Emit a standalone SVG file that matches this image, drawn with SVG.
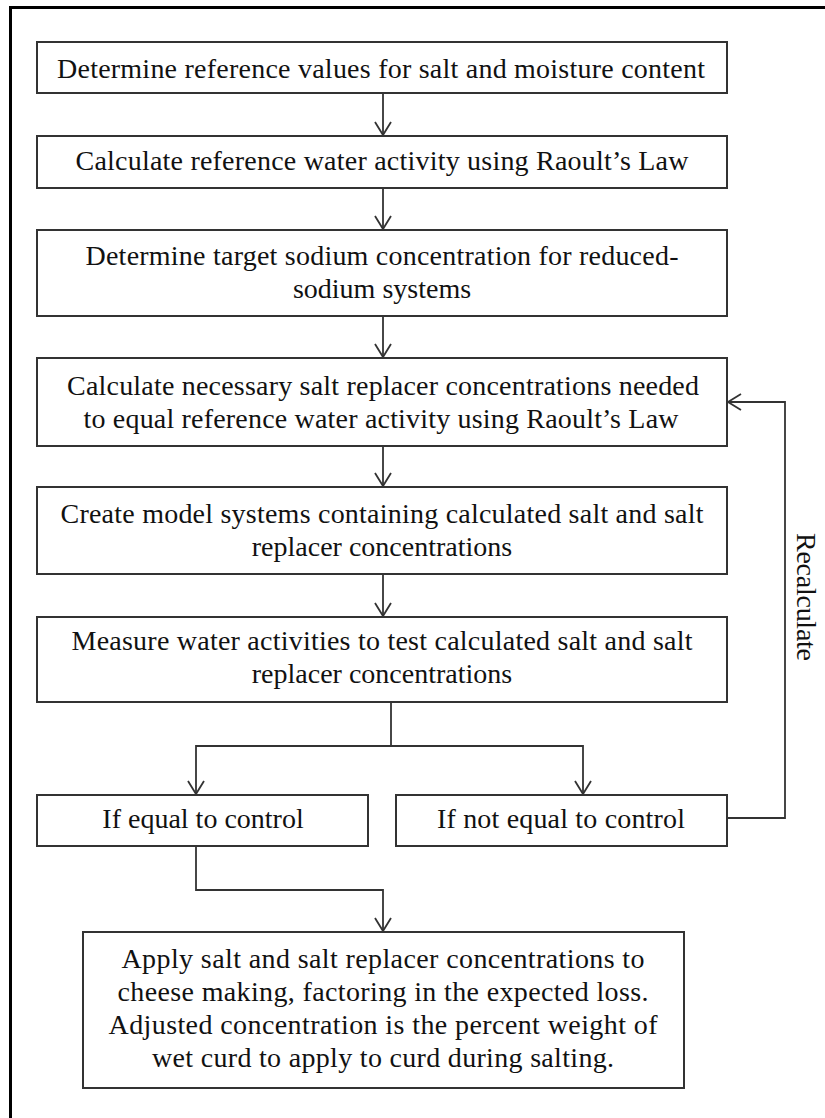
<svg xmlns="http://www.w3.org/2000/svg" width="825" height="1118" viewBox="0 0 825 1118">
<style>
.box{fill:#fff;stroke:#333;stroke-width:2}
.t{font-family:"Liberation Serif","Times New Roman",serif;font-size:28px;fill:#111;text-anchor:middle}
.c{fill:none;stroke:#333;stroke-width:1.8}
</style>
<defs>
<marker id="ah" viewBox="-15 -10 17 20" markerWidth="17" markerHeight="20" refX="0" refY="0" orient="auto" markerUnits="userSpaceOnUse">
<path d="M-13,-8 L0,0 L-13,8" fill="none" stroke="#333" stroke-width="1.8"/>
</marker>
</defs>
<rect width="825" height="1118" fill="#fff"/>
<rect x="10.5" y="7.5" width="830" height="1130" fill="none" stroke="#000" stroke-width="3"/>
<g id="connectors">
<path class="c" d="M383,93 V135" marker-end="url(#ah)"/>
<path class="c" d="M383,188 V229" marker-end="url(#ah)"/>
<path class="c" d="M383,316 V357" marker-end="url(#ah)"/>
<path class="c" d="M383,446 V486" marker-end="url(#ah)"/>
<path class="c" d="M383,574 V616" marker-end="url(#ah)"/>
<path class="c" d="M391,702 V746"/>
<path class="c" d="M391,746 H196 V794" marker-end="url(#ah)"/>
<path class="c" d="M391,746 H583 V794" marker-end="url(#ah)"/>
<path class="c" d="M196,846 V890 H383 V931" marker-end="url(#ah)"/>
<path class="c" d="M727,818 H785 V402 H728" marker-end="url(#ah)"/>
<text class="t" transform="translate(797,597) rotate(90)" x="0" y="0" textLength="128" lengthAdjust="spacing">Recalculate</text>
</g>
<g id="n1"><rect class="box" x="37" y="42" width="690" height="51"/>
<text class="t" x="381" y="78" textLength="648" lengthAdjust="spacing">Determine reference values for salt and moisture content</text></g>
<g id="n2"><rect class="box" x="37" y="136" width="690" height="52"/>
<text class="t" x="382" y="170" textLength="613" lengthAdjust="spacing">Calculate reference water activity using Raoult’s Law</text></g>
<g id="n3"><rect class="box" x="37" y="230" width="690" height="86"/>
<text class="t" x="382" y="265" textLength="593" lengthAdjust="spacing">Determine target sodium concentration for reduced-</text>
<text class="t" x="382" y="298">sodium systems</text></g>
<g id="n4"><rect class="box" x="37" y="358" width="690" height="88"/>
<text class="t" x="383" y="395" textLength="632" lengthAdjust="spacing">Calculate necessary salt replacer concentrations needed</text>
<text class="t" x="381" y="428" textLength="595" lengthAdjust="spacing">to equal reference water activity using Raoult’s Law</text></g>
<g id="n5"><rect class="box" x="37" y="487" width="690" height="87"/>
<text class="t" x="382" y="523" textLength="643" lengthAdjust="spacing">Create model systems containing calculated salt and salt</text>
<text class="t" x="382" y="556">replacer concentrations</text></g>
<g id="n6"><rect class="box" x="37" y="617" width="690" height="85"/>
<text class="t" x="382" y="650" textLength="621" lengthAdjust="spacing">Measure water activities to test calculated salt and salt</text>
<text class="t" x="382" y="683">replacer concentrations</text></g>
<g id="n7"><rect class="box" x="37" y="795" width="331" height="51"/>
<text class="t" x="203" y="828">If equal to control</text></g>
<g id="n8"><rect class="box" x="396" y="795" width="331" height="51"/>
<text class="t" x="561" y="828" textLength="248" lengthAdjust="spacing">If not equal to control</text></g>
<g id="n9"><rect class="box" x="83" y="932" width="601" height="156"/>
<text class="t" x="383" y="968" textLength="523" lengthAdjust="spacing">Apply salt and salt replacer concentrations to</text>
<text class="t" x="383" y="1001" textLength="531" lengthAdjust="spacing">cheese making, factoring in the expected loss.</text>
<text class="t" x="383" y="1034" textLength="549" lengthAdjust="spacing">Adjusted concentration is the percent weight of</text>
<text class="t" x="383" y="1067" textLength="462" lengthAdjust="spacing">wet curd to apply to curd during salting.</text></g>
</svg>
